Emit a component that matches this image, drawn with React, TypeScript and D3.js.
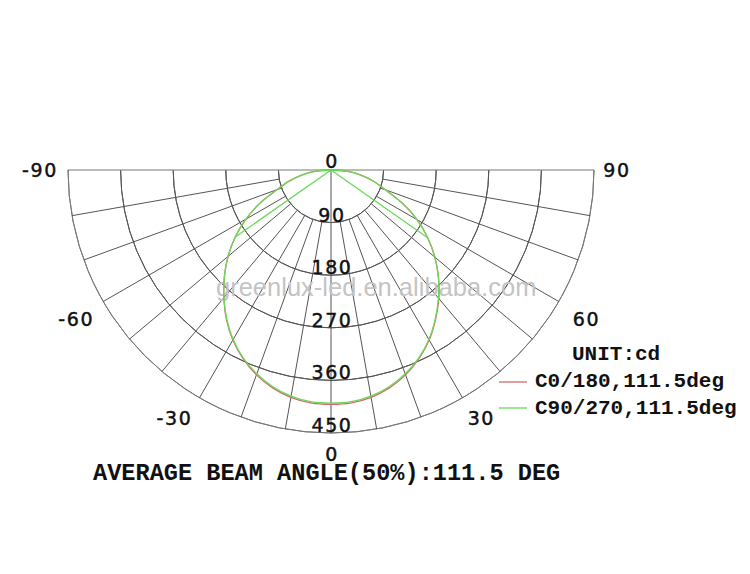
import React from "react";
import * as d3 from "d3";

// Polar intensity distribution (cd) — angle in degrees from nadir
const ANGLES = [-90,-85,-80,-75,-70,-65,-60,-55,-50,-45,-40,-35,-30,-25,-20,-15,-10,-5,0,5,10,15,20,25,30,35,40,45,50,55,60,65,70,75,80,85,90];
const C90_270 = [0,28,52,75,98,134,168,200,230,258,285,311,335,355,371,384,393,398,399,398,393,384,371,355,335,311,286,260,232,202,170,135,99,76,53,29,0];
const C0_180 = [0,28,52,75,98,134,168,200,230,258,285,312,336,356,373,386,395,400,401,400,395,386,373,356,336,312,287,260,232,202,170,135,99,76,53,29,0];
const CHORDS = [[-90, -55], [55, 90]];

const RING_VALUES = [90, 180, 270, 360, 450];
const RING_LABELS = ["0", "90", "180", "270", "360", "450"];
const SPOKE_ANGLES = [-80,-70,-60,-50,-40,-30,-20,-10,10,20,30,40,50,60,70,80];
const ANGLE_LABELS = [-90, -60, -30, 0, 30, 60, 90];
// label placement (angle, distance from centre in px) for each angle label
const ANGLE_LABEL_POS: Record<number, [number, number]> = {
  "-90": [-90, 292], "-60": [-59.8, 296], "-30": [-32.4, 294], "0": [0, 284],
  "30": [31, 290], "60": [59.6, 295], "90": [90, 285],
} as any;

const LEGEND = [
  { name: "C0/180,111.5deg", color: "#d46a6a" },
  { name: "C90/270,111.5deg", color: "#6ad95a" },
];
const UNIT = "UNIT:cd";
const TITLE = "AVERAGE BEAM ANGLE(50%):111.5 DEG";
const WATERMARK = "greenlux-led.en.alibaba.com";

export default function App() {
  const W = 750, H = 574;
  const cx = 331, cy = 170, R = 263;
  const r = d3.scaleLinear().domain([0, 450]).range([0, R]);
  const toRad = (deg: number) => (deg * Math.PI) / 180;
  const pt = (deg: number, px: number): [number, number] => [
    cx + px * Math.sin(toRad(deg)),
    cy + px * Math.cos(toRad(deg)),
  ];

  const arcGen = d3.arc<any>();
  const radial = d3
    .lineRadial<[number, number]>()
    .angle((d) => Math.PI - toRad(d[0]))
    .radius((d) => r(d[1]))
    .curve(d3.curveCatmullRom);
  const radialLinear = d3
    .lineRadial<[number, number]>()
    .angle((d) => Math.PI - toRad(d[0]))
    .radius((d) => r(d[1]));

  const greenPts: [number, number][] = ANGLES.map((a, i) => [a, C90_270[i]]);
  const redPts: [number, number][] = ANGLES.map((a, i) => [a, C0_180[i]]);
  const valAt = (a: number) => C90_270[ANGLES.indexOf(a)];

  const sans = "'DejaVu Sans', Verdana, sans-serif";
  const mono = "'Courier New', 'Liberation Mono', monospace";
  const grid = "#555";

  return (
    <svg width={W} height={H} style={{ position: "absolute", left: 0, top: 0, background: "#fff" }}>
      <rect width={W} height={H} fill="#fff" />
      <g fill="none" stroke={grid} strokeWidth={1}>
        {RING_VALUES.map((v) => (
          <path
            key={v}
            transform={`translate(${cx},${cy})`}
            stroke={v === 450 ? "#777" : grid}
            d={arcGen({ innerRadius: r(v), outerRadius: r(v), startAngle: Math.PI / 2, endAngle: (3 * Math.PI) / 2 }) as string}
          />
        ))}
        {SPOKE_ANGLES.map((a) => {
          const [x1, y1] = pt(a, r(RING_VALUES[0]));
          const [x2, y2] = pt(a, r(450));
          return <line key={a} x1={x1} y1={y1} x2={x2} y2={y2} />;
        })}
        <line x1={cx} y1={cy} x2={pt(0, r(450))[0]} y2={pt(0, r(450))[1]} />
        <line x1={pt(-90, r(450))[0]} y1={cy} x2={pt(90, r(450))[0]} y2={cy} stroke="#777" />
      </g>

      <text x={216} y={296} fontFamily="'Liberation Sans', Arial, sans-serif" fontSize={25.5} fill="#c4c4c4">
        {WATERMARK}
      </text>

      <g fill="none" strokeWidth={1.3}>
        <path transform={`translate(${cx},${cy})`} d={radial(redPts) as string} stroke={LEGEND[0].color} />
        <path transform={`translate(${cx},${cy})`} d={radial(greenPts) as string} stroke={LEGEND[1].color} />
        {CHORDS.map((c, i) => (
          <path
            key={i}
            transform={`translate(${cx},${cy})`}
            d={radialLinear(c.map((a) => [a, valAt(a)] as [number, number])) as string}
            stroke={LEGEND[1].color}
          />
        ))}
      </g>

      <g fontFamily={sans} fontSize={19} fill="#111" stroke="#111" strokeWidth={0.45} letterSpacing={1.6} textAnchor="middle">
        {RING_LABELS.map((l, i) => (
          <text key={l} x={cx + 1} y={cy + r(i * 90) - (i === 0 ? 2 : 1)}>
            {l}
          </text>
        ))}
        {ANGLE_LABELS.map((a) => {
          const [ang, dist] = ANGLE_LABEL_POS[a];
          const [x, y] = pt(ang, dist);
          return (
            <text key={a} x={x + 1} y={y} dy="0.36em">
              {a}
            </text>
          );
        })}
      </g>

      <g fontFamily={mono} fontWeight="bold" fontSize={21} fill="#111">
        <text x={572} y={360}>{UNIT}</text>
        {LEGEND.map((s, i) => (
          <g key={s.name}>
            <line x1={499} x2={527} y1={382 + i * 26} y2={382 + i * 26} stroke={s.color} strokeWidth={1.3} />
            <text x={535} y={387 + i * 27}>{s.name}</text>
          </g>
        ))}
      </g>

      <text x={93} y={480} fontFamily={mono} fontWeight="bold" fontSize={23.6} fill="#111">
        {TITLE}
      </text>
    </svg>
  );
}
